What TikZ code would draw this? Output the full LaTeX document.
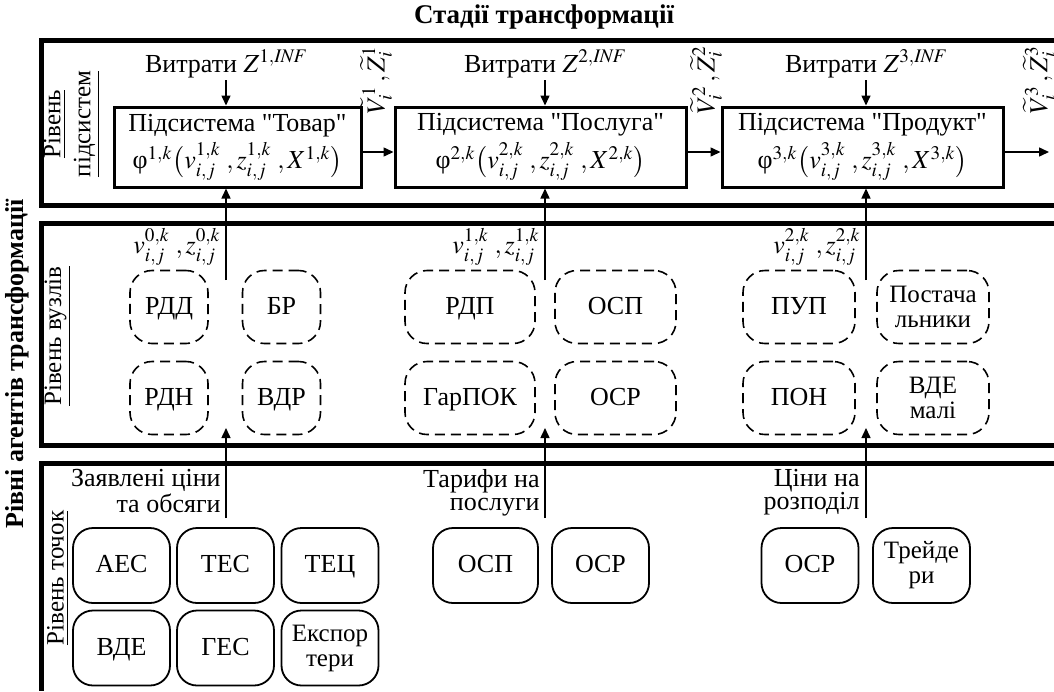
\documentclass[tikz,border=0pt]{standalone}
\usepackage{mathptmx}
\usepackage{fontspec}
\setmainfont{Liberation Serif}
\usetikzlibrary{arrows.meta}
\newcommand{\dq}{\XeTeXglyph\XeTeXcharglyph"22\relax}

\begin{document}
\begin{tikzpicture}[x=0.5pt,y=-0.5pt,
  txt/.style={font=\fontsize{13}{13}\selectfont, inner sep=1pt},
  two/.style={font=\fontsize{13}{11.5}\selectfont, align=right, inner sep=1pt},
  subsys/.style={draw, line width=1.5pt, minimum height=40pt, align=center,
                 font=\fontsize{13}{12}\selectfont, inner sep=0pt},
  knot/.style={draw, dash pattern=on 5pt off 3pt, line width=0.8pt,
               rounded corners=11pt, minimum height=36.5pt, align=center,
               font=\fontsize{13}{13}\selectfont, inner sep=1pt,
               text height=9pt, text depth=2pt},
  point/.style={draw, line width=0.9pt, rounded corners=10pt,
                minimum width=48.5pt, minimum height=37.5pt, align=center,
                font=\fontsize{13}{13}\selectfont, inner sep=1pt,
                text height=9pt, text depth=2pt},
  small/.style={font=\fontsize{12.5}{12.5}\selectfont, text height={}, text depth={}},
  panel/.style={line width=2.5pt},
  arr/.style={line width=0.75pt, -{Triangle[length=5pt,width=4.5pt]}},
  lvl/.style={rotate=90, align=center, font=\fontsize{12.5}{15}\selectfont}]
\useasboundingbox (0,0) rectangle (1054,691);

% panels
\draw[panel] (1054,40) -- (41,40) -- (41,205) -- (1054,205);
\draw[panel] (1054,223) -- (41,223) -- (41,445) -- (1054,445);
\draw[panel] (1054,463) -- (41,463) -- (41,691);

\node[font=\bfseries\fontsize{13.5}{15}\selectfont] (title) at (544,17) {Стадії трансформації};
\node[rotate=90, font=\bfseries\fontsize{13}{15}\selectfont] (agents) at (17,364) {Рівні агентів трансформації};
\node[lvl] (l1) at (72,124) {\underline{Рівень}\\\underline{підсистем}};
\node[lvl] (l2) at (58,336) {\underline{Рівень вузлів}};
\node[lvl] (l3) at (58,578) {\underline{Рівень точок}};

% level of subsystems
\node[subsys, minimum width=123.5pt] (tovar) at (237.5,147)
  {Підсистема \dq Товар\dq\\[2pt] $\mbox{φ}^{1,k}\bigl(v^{1,k}_{i,j}\;, z^{1,k}_{i,j}\;, X^{1,k}\bigr)$};
\node[subsys, minimum width=145.5pt] (posluga) at (540.5,147)
  {Підсистема \dq Послуга\dq\\[2pt] $\mbox{φ}^{2,k}\bigl(v^{2,k}_{i,j}\;, z^{2,k}_{i,j}\;, X^{2,k}\bigr)$};
\node[subsys, minimum width=140.5pt] (produkt) at (862.5,147)
  {Підсистема \dq Продукт\dq\\[2pt] $\mbox{φ}^{3,k}\bigl(v^{3,k}_{i,j}\;, z^{3,k}_{i,j}\;, X^{3,k}\bigr)$};

\node[txt] (zin1) at (226,64) {Витрати $Z^{1,\mathit{INF}}$};
\node[txt] (zin2) at (545,64) {Витрати $Z^{2,\mathit{INF}}$};
\node[txt] (zin3) at (866,64) {Витрати $Z^{3,\mathit{INF}}$};
\draw[arr] (zin1.south) -- (zin1.south |- tovar.north);
\draw[arr] (zin2.south) -- (zin2.south |- posluga.north);
\draw[arr] (zin3.south) -- (zin3.south |- produkt.north);

\node[txt, rotate=90] (vz1) at (376,80) {$\widetilde{V}_i^1\,,\widetilde{Z}_i^1$};
\node[txt, rotate=90] (vz2) at (706,80) {$\widetilde{V}_i^2\,,\widetilde{Z}_i^2$};
\node[txt, rotate=90] (vz3) at (1039,80) {$\widetilde{V}_i^3\,,\widetilde{Z}_i^3$};

\coordinate (out3) at (1049,152);
\draw[arr] ([yshift=-2.5pt]tovar.east) -- ([yshift=-2.5pt]posluga.west);
\draw[arr] ([yshift=-2.5pt]posluga.east) -- ([yshift=-2.5pt]produkt.west);
\draw[arr] (produkt.east |- out3) -- (out3);

% level of nodes
\node[knot, minimum width=39pt] (rdd) at (169,307) {РДД};
\node[knot, minimum width=39pt] (br)  at (281.5,307) {БР};
\node[knot, minimum width=39pt] (rdn) at (169,398) {РДН};
\node[knot, minimum width=39pt] (vdr) at (281.5,398) {ВДР};
\node[knot, minimum width=65pt] (rdp) at (470,307) {РДП};
\node[knot, minimum width=65pt] (garpok) at (470,398) {ГарПОК};
\node[knot, minimum width=60.5pt] (osp) at (615.5,307) {ОСП};
\node[knot, minimum width=60.5pt] (osr) at (615.5,398) {ОСР};
\node[knot, minimum width=56pt] (pup) at (799,307) {ПУП};
\node[knot, minimum width=56pt] (pon) at (799,398) {ПОН};
\node[knot, small, minimum width=56pt] (post) at (933,307) {Постача\\льники};
\node[knot, small, minimum width=56pt] (vdem) at (933,398) {ВДЕ\\малі};

\node[txt, anchor=south east] (vz01) at (223,268) {$v^{0,k}_{i,j}\;, z^{0,k}_{i,j}$};
\node[txt, anchor=south east] (vz12) at (542,268) {$v^{1,k}_{i,j}\;, z^{1,k}_{i,j}$};
\node[txt, anchor=south east] (vz23) at (863,268) {$v^{2,k}_{i,j}\;, z^{2,k}_{i,j}$};

\coordinate (a1) at (226,280);
\coordinate (a2) at (545,280);
\coordinate (a3) at (866,280);
\draw[arr] (a1) -- (a1 |- tovar.south);
\draw[arr] (a2) -- (a2 |- posluga.south);
\draw[arr] (a3) -- (a3 |- produkt.south);

% level of points
\node[point] (aes) at (121.5,565.5) {АЕС};
\node[point] (tes) at (225.5,565.5) {ТЕС};
\node[point] (tec) at (330,565.5) {ТЕЦ};
\node[point] (vde) at (121.5,648) {ВДЕ};
\node[point] (ges) at (225.5,648) {ГЕС};
\node[point, small] (eksp) at (330,648) {Експор\\тери};
\node[point, minimum width=52.5pt] (osp2) at (485.5,565.5) {ОСП};
\node[point] (osr2) at (600.5,565.5) {ОСР};
\node[point] (osr3) at (810,565.5) {ОСР};
\node[point, small] (treid) at (921.5,565.5) {Трейде\\ри};

\node[two, anchor=north east] (ask1) at (223,467) {Заявлені ціни\\та обсяги};
\node[two, anchor=north east] (ask2) at (542,467) {Тарифи на\\послуги};
\node[two, anchor=north east] (ask3) at (862,467) {Ціни на\\розподіл};

\coordinate (b1) at (226,518);
\coordinate (b2) at (545,518);
\coordinate (b3) at (866,518);
\coordinate (e1) at (226,428);
\coordinate (e2) at (545,428);
\coordinate (e3) at (866,428);
\draw[arr] (b1) -- (e1);
\draw[arr] (b2) -- (e2);
\draw[arr] (b3) -- (e3);
\end{tikzpicture}
\end{document}
